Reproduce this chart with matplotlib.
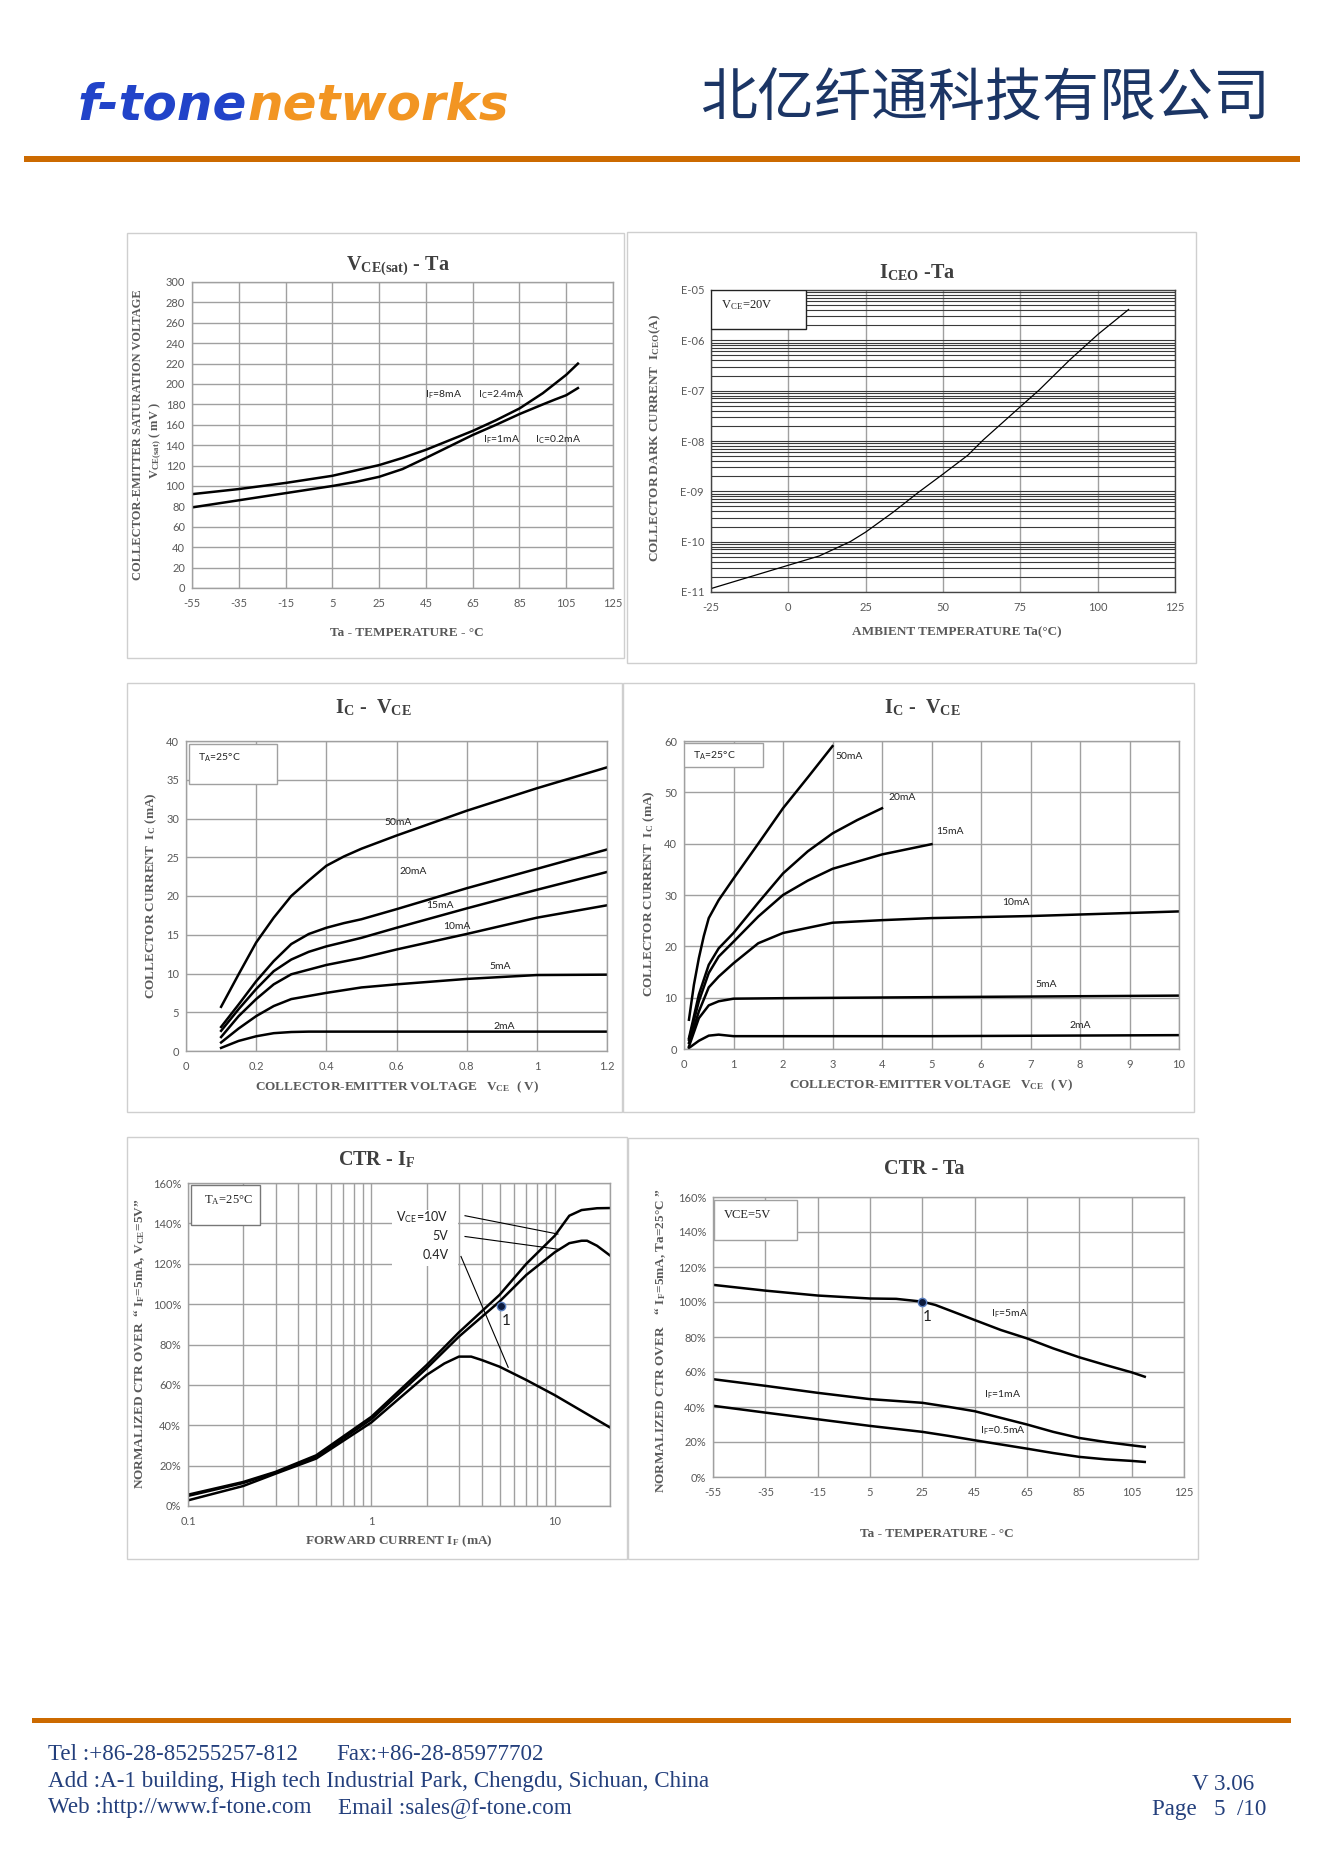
import matplotlib
matplotlib.use('Agg')
import math
import matplotlib.pyplot as plt
from matplotlib.patches import Rectangle
from matplotlib.ticker import FixedLocator, FuncFormatter, NullFormatter, LogLocator, MultipleLocator

plt.rcParams['font.family'] = ['Lato', 'DejaVu Sans']
plt.rcParams['mathtext.fontset'] = 'stix'
plt.rcParams['axes.unicode_minus'] = False

# ---------------- data ----------------
# Panel 1: VCE(sat) - Ta
p1_ta8 = [-55, -35, -15, 5, 25, 35, 45, 65, 75, 85, 95, 100, 105, 110]
p1_if8 = [92, 97, 103, 110, 120.5, 127.5, 135.5, 154, 164.5, 176, 191, 200, 209, 220]
p1_ta1 = [-55, -35, -15, 5, 15, 25, 35, 45, 65, 75, 85, 95, 100, 105, 110]
p1_if1 = [79, 86, 93, 100, 104, 109, 116.6, 127.5, 150, 160, 170.5, 180, 184.6, 189, 196]

# Panel 2: ICEO - Ta
p2_ta = [-25, 0, 10, 20, 25, 34, 42, 50, 58, 63, 75, 81, 91, 100, 110]
p2_iceo = [1.17e-11, 3.4e-11, 5.2e-11, 1.0e-10, 1.55e-10, 3.9e-10, 9.5e-10, 2.2e-9,
           5.2e-9, 1.05e-8, 4.8e-8, 1.02e-7, 4.1e-7, 1.3e-6, 4.1e-6]

# Panel 3: IC - VCE (0..1.2 V)
p3_vce = [0.1, 0.15, 0.2, 0.25, 0.3, 0.35, 0.4, 0.45, 0.5, 0.55, 0.6, 0.8, 1.0, 1.2]
p3_50 = [5.7, 9.9, 14.0, 17.2, 20.0, 22.0, 23.9, 25.1, 26.1, 26.95, 27.8, 31.0, 33.9, 36.6]
p3_20 = [3.1, 6.0, 9.0, 11.6, 13.8, 15.1, 15.9, 16.5, 17.0, 17.65, 18.3, 21.0, 23.5, 26.0]
p3_15 = [2.6, 5.4, 8.0, 10.3, 11.8, 12.8, 13.5, 14.05, 14.6, 15.25, 15.9, 18.4, 20.8, 23.1]
p3_10 = [1.8, 4.5, 6.7, 8.6, 9.9, 10.5, 11.1, 11.55, 12.0, 12.55, 13.1, 15.1, 17.2, 18.8]
p3_5 = [1.1, 2.9, 4.5, 5.8, 6.7, 7.1, 7.5, 7.85, 8.2, 8.4, 8.6, 9.3, 9.8, 9.85]
p3_2 = [0.4, 1.3, 1.9, 2.3, 2.45, 2.5, 2.5, 2.5, 2.5, 2.5, 2.5, 2.5, 2.5, 2.5]
p3_labels = ['50mA', '20mA', '15mA', '10mA', '5mA', '2mA']
p3_lab_x = [0.604, 0.648, 0.724, 0.772, 0.896, 0.908]
p3_lab_y = [29.5, 23.1, 18.8, 16.1, 10.9, 3.2]

# Panel 4: IC - VCE (0..10 V)
p4_v50 = [0.1, 0.2, 0.3, 0.4, 0.5, 0.7, 1.0, 1.5, 2.0, 2.5, 3.0]
p4_i50 = [5.7, 12.5, 17.7, 22.0, 25.5, 29.0, 33.2, 40.0, 46.9, 52.9, 59.0]
p4_v20 = [0.1, 0.3, 0.5, 0.7, 1.0, 1.5, 2.0, 2.5, 3.0, 3.5, 4.0]
p4_i20 = [2.1, 10.6, 16.4, 19.6, 22.6, 28.5, 34.2, 38.5, 42.0, 44.6, 46.9]
p4_v15 = [0.1, 0.3, 0.5, 0.7, 1.0, 1.5, 2.0, 2.5, 3.0, 4.0, 5.0]
p4_i15 = [1.8, 9.3, 14.8, 18.0, 20.9, 25.8, 30.0, 32.8, 35.1, 37.9, 39.9]
p4_v10 = [0.1, 0.3, 0.5, 0.7, 1.0, 1.5, 2.0, 3.0, 4.0, 5.0, 7.0, 10.0]
p4_i10 = [1.2, 7.3, 12.0, 14.1, 16.7, 20.6, 22.6, 24.6, 25.1, 25.5, 25.9, 26.8]
p4_v5 = [0.1, 0.3, 0.5, 0.7, 1.0, 2.0, 5.0, 10.0]
p4_i5 = [0.5, 6.0, 8.5, 9.3, 9.8, 9.9, 10.1, 10.4]
p4_v2 = [0.1, 0.3, 0.5, 0.7, 1.0, 5.0, 10.0]
p4_i2 = [0.2, 1.6, 2.6, 2.8, 2.5, 2.5, 2.7]
p4_labels = ['50mA', '20mA', '15mA', '10mA', '5mA', '2mA']
p4_lab_x = [3.05, 4.13, 5.10, 6.43, 7.09, 7.78]
p4_lab_y = [56.9, 48.9, 42.3, 28.6, 12.6, 4.6]

# Panel 5: CTR - IF
p5_if10 = [0.1, 0.2, 0.3, 0.5, 1, 2, 3, 5, 7, 10, 12, 14, 17, 20]
p5_c10 = [5.6, 11.9, 16.9, 25.1, 44.2, 69.8, 86, 104.6, 120, 133.9, 143.8, 146.6, 147.5, 147.6]
p5_if5 = [0.1, 0.2, 0.3, 0.5, 1, 2, 3, 5, 7, 10, 12, 14, 15, 17, 20]
p5_c5 = [5.0, 11.4, 16.5, 24.3, 43.0, 68.2, 83.9, 101.3, 114.5, 125.7, 130.2, 131.4, 131.4, 128.9, 124.1]
p5_if04 = [0.1, 0.2, 0.3, 0.5, 1, 2, 2.5, 3, 3.5, 4, 5, 7, 10, 20]
p5_c04 = [2.8, 9.9, 16.0, 23.5, 41.4, 64.9, 70.6, 74.0, 74.0, 72.3, 69.0, 62.4, 54.9, 38.9]
p5_ref = (5.12, 99.1)

# Panel 6: CTR - Ta
p6_ta5 = [-55, -35, -15, 5, 15, 25, 30, 40, 45, 55, 65, 75, 85, 95, 105, 110]
p6_c5 = [109.8, 106.5, 103.7, 102.0, 101.8, 100.2, 98.3, 92.6, 89.7, 84.0, 79.2, 73.5, 68.4, 64, 59.8, 57.3]
p6_ta = [-55, -35, -15, 5, 25, 35, 45, 55, 65, 75, 85, 95, 105, 110]
p6_c1 = [55.9, 52.1, 48.1, 44.5, 42.4, 40.1, 37.6, 33.8, 30.0, 25.8, 22.3, 20.0, 18.1, 17.2]
p6_c05 = [40.7, 36.8, 33.0, 29.2, 25.8, 23.5, 21.0, 18.6, 16.2, 13.7, 11.5, 10.1, 9.2, 8.6]
p6_ref = (25, 100)

TA_TICKS = list(range(-55, 126, 20))

# ---------------- figure ----------------
W, H = 1323, 1872
fig = plt.figure(figsize=(W / 100, H / 100), dpi=100)

SERIF = ['Liberation Serif', 'DejaVu Serif']
GRAY = '#595959'
GRID = '#a0a0a0'


def ax_at(l, t, r, b):
    return fig.add_axes([l / W, 1 - b / H, (r - l) / W, (b - t) / H])


def ftext(x, y, s, **kw):
    return fig.text(x / W, 1 - y / H, s, **kw)


def frect(l, t, r, b, **kw):
    fig.add_artist(Rectangle((l / W, 1 - b / H), (r - l) / W, (b - t) / H,
                             transform=fig.transFigure, **kw))


def style(ax, xpad=7, ypad=5):
    for s in ax.spines.values():
        s.set_color(GRID)
        s.set_linewidth(1)
    ax.tick_params(which='both', length=0, labelsize=8, labelcolor=GRAY)
    ax.tick_params(axis='x', pad=xpad)
    ax.tick_params(axis='y', pad=ypad)
    ax.set_axisbelow(True)


def title(x, y, s):
    ftext(x, y, s, family=SERIF, weight='bold', fontsize=14.5, color='#3f3f3f',
          ha='center', va='center')


def axlabel(x, y, s, rot=0, size=9.5):
    ftext(x, y, s, family=SERIF, weight='bold', fontsize=size, color=GRAY,
          ha='center', va='center', rotation=rot)


intfmt = FuncFormatter(lambda v, p: '%d' % round(v))

# panel frames
for (l, t, r, b) in [(127, 233, 624, 658), (627, 232, 1196, 663),
                     (127, 683, 622, 1112), (623, 683, 1194, 1112),
                     (127, 1137, 627, 1559), (628, 1138, 1198, 1559)]:
    frect(l, t, r, b, fill=False, ec='#cfcfcf', lw=1)

# ---------- Panel 1 ----------
ax1 = ax_at(192, 282, 613, 588)
style(ax1)
ax1.set_xlim(-55, 125)
ax1.set_ylim(0, 300)
ax1.xaxis.set_major_locator(FixedLocator(TA_TICKS))
ax1.xaxis.set_major_formatter(intfmt)
ax1.yaxis.set_major_locator(MultipleLocator(20))
ax1.grid(True, color=GRID, lw=1)
ax1.plot(p1_ta8, p1_if8, color='black', lw=1.8)
ax1.plot(p1_ta1, p1_if1, color='black', lw=1.8)
for x, y, s in [(44.5, 189, r'I$_\mathregular{F}$=8mA'), (67.3, 189, r'I$_\mathregular{C}$=2.4mA'),
                (69.4, 145, r'I$_\mathregular{F}$=1mA'), (91.5, 145, r'I$_\mathregular{C}$=0.2mA')]:
    ax1.text(x, y, s, fontsize=7.5, ha='left', va='center', color='#222222')
title(398, 266, r'V$_\mathregular{CE(sat)}$ - Ta')
axlabel(138, 435, 'COLLECTOR-EMITTER SATURATION VOLTAGE', rot=90, size=9)
axlabel(156, 440, r'V$_\mathregular{CE(sat)}$ ( mV )', rot=90, size=9)
axlabel(407, 633, 'Ta - TEMPERATURE - °C')

# ---------- Panel 2 ----------
ax2 = ax_at(711, 290, 1175, 592)
style(ax2)
for s in ax2.spines.values():
    s.set_color('#444444')
ax2.set_xlim(-25, 125)
ax2.set_yscale('log')
ax2.set_ylim(1e-11, 1e-5)
ax2.xaxis.set_major_locator(MultipleLocator(25))
ax2.xaxis.set_major_formatter(intfmt)
ax2.yaxis.set_major_locator(FixedLocator([1e-11, 1e-10, 1e-9, 1e-8, 1e-7, 1e-6, 1e-5]))
ax2.yaxis.set_minor_locator(LogLocator(base=10, subs=range(2, 10), numticks=20))
ax2.yaxis.set_major_formatter(FuncFormatter(lambda v, p: 'E-%02d' % round(-math.log10(v))))
ax2.yaxis.set_minor_formatter(NullFormatter())
ax2.xaxis.grid(True, color=GRID, lw=1)
ax2.yaxis.grid(True, which='both', color='#3a3a3a', lw=0.8)
ax2.plot(p2_ta, p2_iceo, color='black', lw=0.9)
ax2.add_patch(Rectangle((-25, 10 ** -5.77), 30.8, 1e-5 - 10 ** -5.77, fc='white',
                        ec='#222222', lw=1, zorder=3))
ax2.text(-21.8, 5.1e-6, r'V$_\mathregular{CE}$=20V', family=SERIF, fontsize=9,
         ha='left', va='center', zorder=4, color='#222222')
title(917, 273, r'I$_\mathregular{CEO}$ -Ta')
axlabel(655, 438, r'COLLECTOR DARK CURRENT  I$_\mathregular{CEO}$(A)', rot=90)
axlabel(957, 632, 'AMBIENT TEMPERATURE Ta(°C)')

# ---------- Panel 3 ----------
ax3 = ax_at(186, 741, 607, 1051)
style(ax3)
ax3.set_xlim(0, 1.2)
ax3.set_ylim(0, 40)
ax3.xaxis.set_major_locator(MultipleLocator(0.2))
ax3.yaxis.set_major_locator(MultipleLocator(5))
ax3.xaxis.set_major_formatter(FuncFormatter(lambda v, p: ('%g' % round(v, 2))))
ax3.grid(True, color=GRID, lw=1)
for ys in [p3_50, p3_20, p3_15, p3_10, p3_5, p3_2]:
    ax3.plot(p3_vce, ys, color='black', lw=1.8)
for x, y, s in zip(p3_lab_x, p3_lab_y, p3_labels):
    ax3.text(x, y, s, fontsize=7.5, ha='center', va='center', color='#222222')
ax3.add_patch(Rectangle((0.0086, 34.5), 0.25, 5.16, fc='white', ec=GRID, lw=1, zorder=3))
ax3.text(0.035, 37.9, r'T$_\mathregular{A}$=25°C', fontsize=7.5, ha='left', va='center',
         zorder=4, color='#222222')
title(373, 708, r'I$_\mathregular{C}$ -  V$_\mathregular{CE}$')
axlabel(151, 896, r'COLLECTOR CURRENT  I$_\mathregular{C}$ (mA)', rot=90)
axlabel(397, 1087, r'COLLECTOR-EMITTER VOLTAGE   V$_\mathregular{CE}$  ( V)')

# ---------- Panel 4 ----------
ax4 = ax_at(684, 741, 1179, 1049)
style(ax4)
ax4.set_xlim(0, 10)
ax4.set_ylim(0, 60)
ax4.xaxis.set_major_locator(MultipleLocator(1))
ax4.xaxis.set_major_formatter(intfmt)
ax4.yaxis.set_major_locator(MultipleLocator(10))
ax4.grid(True, color=GRID, lw=1)
for xs, ys in [(p4_v50, p4_i50), (p4_v20, p4_i20), (p4_v15, p4_i15),
               (p4_v10, p4_i10), (p4_v5, p4_i5), (p4_v2, p4_i2)]:
    ax4.plot(xs, ys, color='black', lw=1.8)
for x, y, s in zip(p4_lab_x, p4_lab_y, p4_labels):
    ax4.text(x, y, s, fontsize=7.5, ha='left', va='center', color='#222222')
ax4.add_patch(Rectangle((0.01, 55.0), 1.58, 4.7, fc='white', ec=GRID, lw=1, zorder=3))
ax4.text(0.185, 57.2, r'T$_\mathregular{A}$=25°C', fontsize=7.5, ha='left', va='center',
         zorder=4, color='#222222')
title(922, 708, r'I$_\mathregular{C}$ -  V$_\mathregular{CE}$')
axlabel(649, 894, r'COLLECTOR CURRENT  I$_\mathregular{C}$ (mA)', rot=90)
axlabel(931, 1085, r'COLLECTOR-EMITTER VOLTAGE   V$_\mathregular{CE}$  ( V)')

# ---------- Panel 5 ----------
ax5 = ax_at(188, 1183, 610, 1506)
style(ax5)
ax5.set_xscale('log')
ax5.set_xlim(0.1, 20)
ax5.set_ylim(0, 160)
ax5.xaxis.set_major_locator(FixedLocator([0.1, 1, 10]))
ax5.xaxis.set_major_formatter(FuncFormatter(lambda v, p: '%g' % v))
ax5.xaxis.set_minor_locator(LogLocator(base=10, subs=range(2, 10), numticks=20))
ax5.xaxis.set_minor_formatter(NullFormatter())
ax5.yaxis.set_major_locator(MultipleLocator(20))
ax5.yaxis.set_major_formatter(FuncFormatter(lambda v, p: '%d%%' % v))
ax5.grid(True, which='both', color=GRID, lw=1)
ax5.add_patch(Rectangle((1.29, 119), 2.95 - 1.29, 27.5, fc='white', ec='none', zorder=1.5))
ax5.plot(p5_if10, p5_c10, color='black', lw=1.8, zorder=2)
ax5.plot(p5_if5, p5_c5, color='black', lw=1.8, zorder=2)
ax5.plot(p5_if04, p5_c04, color='black', lw=1.8, zorder=2)
for x0, y0, x1, y1 in [(3.24, 143.8, 10.4, 134.7), (3.24, 133.5, 10.4, 127.2), (3.08, 123.6, 5.57, 68.7)]:
    ax5.plot([x0, x1], [y0, y1], color='black', lw=0.8, zorder=2)
for y, s in [(143, r'V$_\mathregular{CE}$=10V'), (133.5, '5V'), (124.4, '0.4V')]:
    ax5.text(2.63, y, s, fontsize=9, ha='right', va='center', color='#222222', zorder=3)
ax5.plot([p5_ref[0]], [p5_ref[1]], 'o', ms=6, mfc='#0d1b3e', mec='#5a7fc0', mew=1, zorder=4)
ax5.text(5.46, 91.7, '1', fontsize=11, ha='center', va='center', color='#222222')
ax5.add_patch(Rectangle((0.104, 139.3), 0.248 - 0.104, 19.9, fc='white', ec='#777777', lw=1, zorder=3))
ax5.text(0.1217, 151.7, r'T$_\mathregular{A}$=25°C', family=SERIF, fontsize=9, ha='left',
         va='center', zorder=4, color='#222222')
title(377, 1160, r'CTR - I$_\mathregular{F}$')
axlabel(140, 1344, r'NORMALIZED CTR OVER  “ I$_\mathregular{F}$=5mA, V$_\mathregular{CE}$=5V”', rot=90)
axlabel(399, 1541, r'FORWARD CURRENT I$_\mathregular{F}$ (mA)')

# ---------- Panel 6 ----------
ax6 = ax_at(713, 1197, 1184, 1477)
style(ax6)
ax6.set_xlim(-55, 125)
ax6.set_ylim(0, 160)
ax6.xaxis.set_major_locator(FixedLocator(TA_TICKS))
ax6.xaxis.set_major_formatter(intfmt)
ax6.yaxis.set_major_locator(MultipleLocator(20))
ax6.yaxis.set_major_formatter(FuncFormatter(lambda v, p: '%d%%' % v))
ax6.grid(True, color=GRID, lw=1)
ax6.plot(p6_ta5, p6_c5, color='black', lw=1.8)
ax6.plot(p6_ta, p6_c1, color='black', lw=1.8)
ax6.plot(p6_ta, p6_c05, color='black', lw=1.8)
ax6.plot([p6_ref[0]], [p6_ref[1]], 'o', ms=6, mfc='#0d1b3e', mec='#5a7fc0', mew=1, zorder=4)
ax6.text(27, 91.6, '1', fontsize=11, ha='center', va='center', color='#222222')
for x, y, s in [(51.3, 93.2, r'I$_\mathregular{F}$=5mA'), (48.6, 47.2, r'I$_\mathregular{F}$=1mA'),
                (46.9, 26.2, r'I$_\mathregular{F}$=0.5mA')]:
    ax6.text(x, y, s, fontsize=7.5, ha='left', va='center', color='#222222')
ax6.add_patch(Rectangle((-54.7, 135.6), 31.7, 22.9, fc='white', ec=GRID, lw=1, zorder=3))
ax6.text(-50.8, 149.9, 'VCE=5V', family=SERIF, fontsize=9, ha='left', va='center',
         zorder=4, color='#222222')
title(924, 1169, 'CTR - Ta')
axlabel(661, 1341, r'NORMALIZED CTR OVER    “ I$_\mathregular{F}$=5mA, Ta=25°C ”', rot=90)
axlabel(937, 1534, 'Ta - TEMPERATURE - °C')

# ---------------- header ----------------
t1 = ftext(78, 120, 'f-tone', family='DejaVu Sans', weight='bold', style='oblique',
           fontsize=36, color='#2143c9', ha='left', va='baseline')
fig.canvas.draw()
bb = t1.get_window_extent()
ftext(bb.x1, 120, 'networks', family='DejaVu Sans', weight='bold', style='oblique',
      fontsize=36, color='#f29522', ha='left', va='baseline')
ftext(700, 99, '北亿纤通科技有限公司', family=['Noto Sans CJK SC', 'DejaVu Sans'],
      fontsize=41, color='#1b3565', ha='left', va='center', weight='medium')
frect(24, 156, 1300, 162, fc='#cc6a00', ec='none')

# ---------------- footer ----------------
frect(32, 1718, 1291, 1723, fc='#cc6a00', ec='none')
FC = '#233f7c'
fk = dict(family=SERIF, fontsize=16.6, color=FC, va='center')
ftext(48, 1754, 'Tel :+86-28-85255257-812', ha='left', **fk)
ftext(336, 1754, 'Fax:+86-28-85977702', ha='left', **fk)
ftext(48, 1781, 'Add :A-1 building, High tech Industrial Park, Chengdu, Sichuan, China', ha='left', **fk)
ftext(48, 1808, 'Web :http://www.f-tone.com', ha='left', **fk)
ftext(338, 1808, 'Email :sales@f-tone.com', ha='left', **fk)
ftext(1254, 1784, 'V 3.06', ha='right', **fk)
ftext(1266, 1809, 'Page   5  /10', ha='right', **fk)

fig.savefig('out.png', dpi=100, facecolor='white')
